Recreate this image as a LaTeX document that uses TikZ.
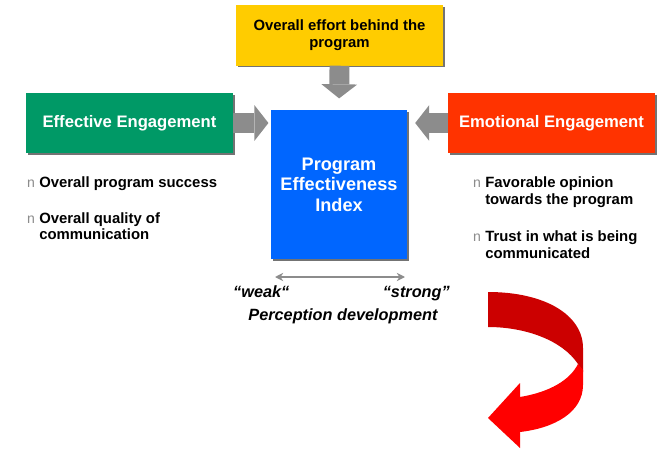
\documentclass[tikz,border=0pt]{standalone}
\usepackage{fontspec}
\setmainfont{Liberation Sans}
\usetikzlibrary{arrows.meta, shadows}
\definecolor{effgreen}{RGB}{0,153,102}
\definecolor{idxblue}{RGB}{0,102,255}
\definecolor{effyellow}{RGB}{255,204,0}
\definecolor{emored}{RGB}{255,51,0}
\definecolor{fatgray}{RGB}{140,140,140}
\definecolor{darkred}{RGB}{204,0,0}
\definecolor{brightred}{RGB}{255,0,0}
\tikzset{
box/.style={minimum width=6.2cm, minimum height=1.8cm, inner sep=2pt, font=\bfseries\fontsize{14.2}{17}\selectfont, general shadow={fill=black!55, shadow xshift=1.6pt, shadow yshift=-1.6pt}}, % the three outer boxes
fat/.style={draw=fatgray, line width=17pt, -{Triangle[length=12pt, width=30.6pt, line width=0pt]}}, % thick gray arrows
itm/.style={anchor=base west, inner sep=0pt, font=\bfseries\fontsize{12.7}{14.5}\selectfont},
perc/.style={font=\bfseries\itshape\fontsize{13.9}{16}\selectfont, inner sep=0pt},
}
\newcommand{\bn}{\textcolor{black!45}{\mdseries\fontsize{12}{12}\selectfont n}}
\newcommand{\bitem}[1]{\begin{tabular}[t]{@{}l@{\hspace{3.6pt}}l@{}}\bn & #1\end{tabular}}

\begin{document}
\begin{tikzpicture}[x=0.03cm, y=-0.03cm]
\useasboundingbox (0,0) rectangle (661,449);

\node[box, fill=effyellow, align=center, font=\bfseries\fontsize{12.7}{14.5}\selectfont] (effort) at (339.5,35.5) {Overall effort behind the\\program};
\node[box, fill=effgreen, text=white] (eff) at (129.5,123) {Effective Engagement};
\node[box, fill=emored, text=white] (emo) at (551.5,123) {Emotional Engagement};
\node[minimum width=4.1cm, minimum height=4.45cm, fill=idxblue, text=white, align=center, font=\bfseries\fontsize{15.5}{17.4}\selectfont, general shadow={fill=black!55, shadow xshift=1.6pt, shadow yshift=-1.6pt}] (pei) at (339,184.5) {Program\\Effectiveness\\Index};

% edges
\draw[fat, shorten >=10pt] (effort.south) -- (pei.north); % effort to index
\draw[fat, shorten >=1.7pt] (eff.east) -- (eff.east -| pei.west); % effective to index
\draw[fat, shorten >=6.5pt] (emo.west) -- (emo.west -| pei.east); % emotional to index

% bullets
\node[itm] (l1) at (27,187) {\bitem{Overall program success}};
\node[itm] (l2) at (27,223) {\bitem{Overall quality of\\ & communication}};
\node[itm, font=\bfseries\fontsize{12.7}{15.3}\selectfont] (r1) at (473,187) {\bitem{Favorable opinion\\ & towards the program}};
\node[itm, font=\bfseries\fontsize{12.7}{15.3}\selectfont] (r2) at (473,241) {\bitem{Trust in what is being\\ & communicated}};

% perception scale
\coordinate (wk) at (275,277);
\coordinate (st) at (405,277);
\draw[black!45, line width=1.7pt, {Stealth[length=7pt, width=7pt]}-{Stealth[length=7pt, width=7pt]}] (wk) -- (st);
\node[perc, anchor=base west] (weak) at (233,297) {“weak“};
\node[perc, anchor=base east] (strong) at (450,297) {“strong"};
\node[perc, anchor=base] (pd) at (343,320) {Perception development};

% red turning arrow
\fill[darkred] (488,292) .. controls (545,292) and (583,315) .. (583,348) -- (583,372) -- (578,364) .. controls (562,340) and (525,327) .. (488,327) -- cycle;
\fill[brightred] (578,364) -- (583,370) -- (583,385) .. controls (583,412) and (555,428) .. (520,432) -- (520,448) -- (488,418) -- (520,383) -- (520,397) .. controls (550,392) and (570,380) .. (578,364) -- cycle;
\end{tikzpicture}
\end{document}
